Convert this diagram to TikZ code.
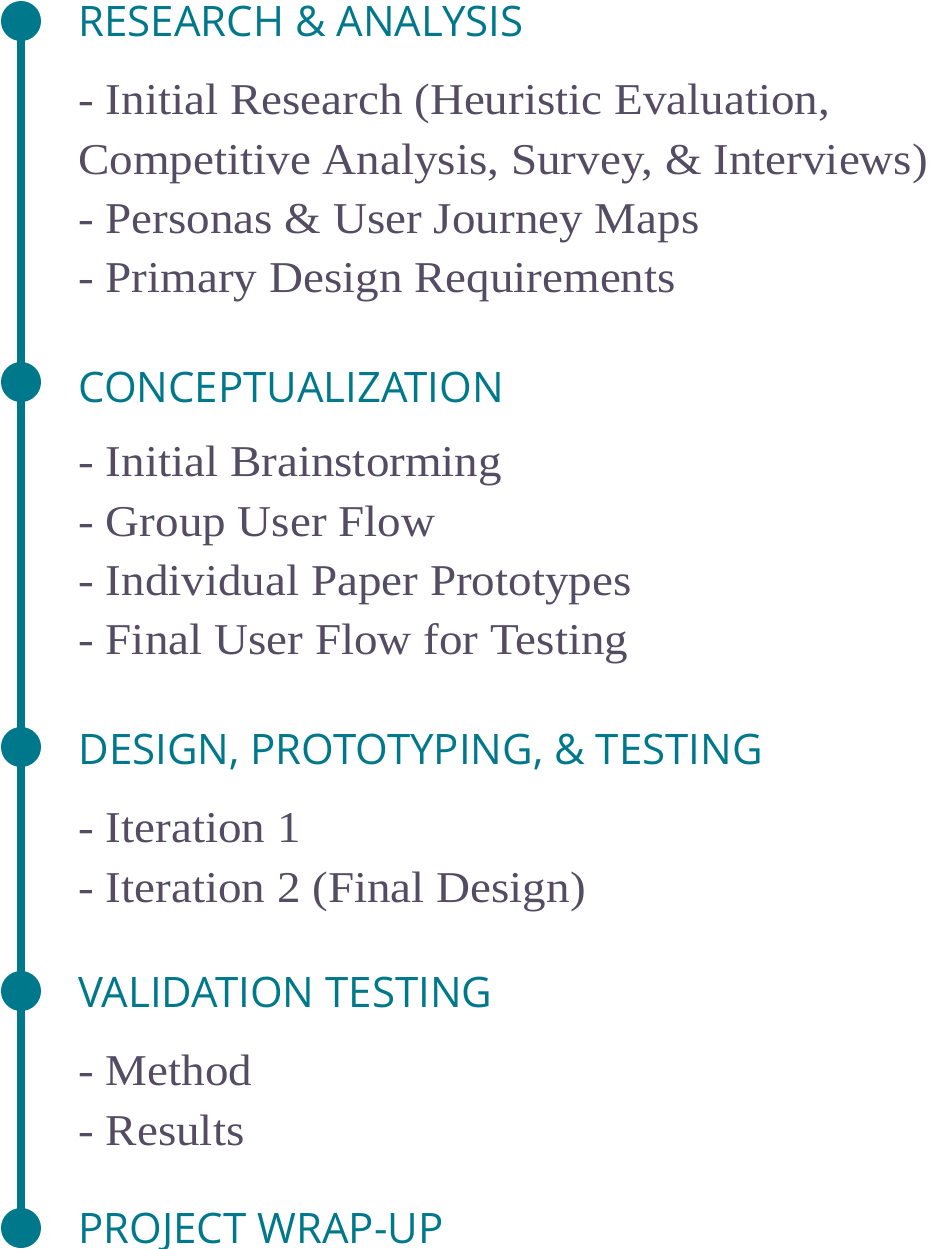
\documentclass[tikz,border=0pt]{standalone}
\usepackage{fontspec}
\setmainfont[FakeStretch=1.07]{Liberation Serif}
\newfontfamily\headfont{Open Sans}
\usetikzlibrary{positioning}

\definecolor{tealline}{RGB}{0,120,140}
\definecolor{bodygray}{RGB}{84,76,99}

\tikzset{
    stepdot/.style={circle,fill=tealline,inner sep=0pt,minimum size=20pt},
    phase/.style={anchor=base west,inner sep=0pt,text=tealline,font=\headfont\fontsize{21}{25}\selectfont},
    item/.style={anchor=base west,inner sep=0pt,text=bodygray,font=\fontsize{22}{26}\selectfont}
}

\begin{document}
\begin{tikzpicture}[x=0.5pt,y=-0.5pt]
    \useasboundingbox (0,0) rectangle (930,1249);

    % timeline
    \node[stepdot] (d1) at (21,21) {};
    \node[stepdot] (d2) at (21,382) {};
    \node[stepdot] (d3) at (21,747) {};
    \node[stepdot] (d4) at (21,991) {};
    \node[stepdot] (d5) at (21,1228) {};
    \draw [tealline,line width=4pt] (d1.center) -- (d5.center);

    \node[phase] (h1) at (78,36) {RESEARCH \& ANALYSIS};
    \node[item] (a1) at (78,114) {- Initial Research (Heuristic Evaluation,};
    \node[item] (a2) at (78,174) {Competitive Analysis, Survey, \& Interviews)};
    \node[item] (a3) at (78,233) {- Personas \& User Journey Maps};
    \node[item] (a4) at (78,292) {- Primary Design Requirements};

    \node[phase] (h2) at (78,402) {CONCEPTUALIZATION};
    \node[item] (b1) at (78,476) {- Initial Brainstorming};
    \node[item] (b2) at (78,536) {- Group User Flow};
    \node[item] (b3) at (78,595) {- Individual Paper Prototypes};
    \node[item] (b4) at (78,654) {- Final User Flow for Testing};

    \node[phase] (h3) at (78,764) {DESIGN, PROTOTYPING, \& TESTING};
    \node[item] (c1) at (78,842) {- Iteration 1};
    \node[item] (c2) at (78,902) {- Iteration 2 (Final Design)};

    \node[phase] (h4) at (78,1007) {VALIDATION TESTING};
    \node[item] (e1) at (78,1085) {- Method};
    \node[item] (e2) at (78,1145) {- Results};

    \node[phase] (h5) at (78,1243) {PROJECT WRAP-UP};
\end{tikzpicture}
\end{document}
